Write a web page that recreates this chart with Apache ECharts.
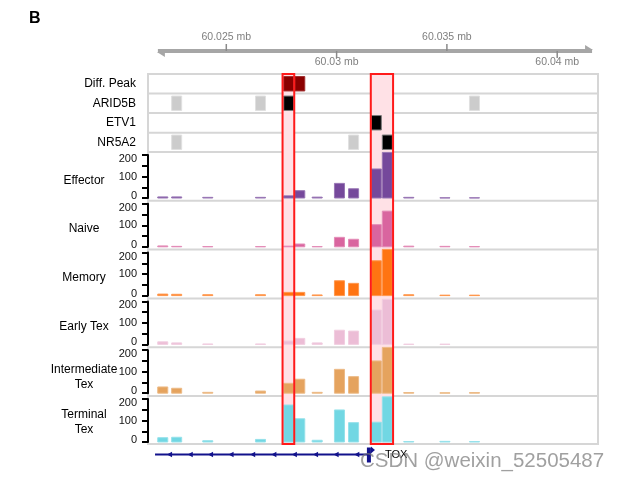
<!DOCTYPE html>
<html><head><meta charset="utf-8">
<script src="https://cdn.jsdelivr.net/npm/echarts@6/dist/echarts.min.js"></script>
<style>html,body{margin:0;padding:0;background:#fff}#c{width:618px;height:480px}</style>
</head><body><div id="c"></div>
<script>
// ---------------- data ----------------
const binStarts = [60.02187,60.02250,60.02391,60.02630,60.02758,60.02808,60.02887,60.02988,60.03052,60.03155,60.03205,60.03302,60.03466,60.03600];
const binWidth = 0.0005;
const trackNames = ['Effector','Naive','Memory','Early Tex','Intermediate\nTex','Terminal\nTex'];
const effector        = [5,5,3,3,10,34,4,68,43,135,212,3,1,1];
const naive           = [4,2,1,1,3,13,1,44,35,103,166,3,2,1];
const memory          = [7,6,4,4,15,15,3,69,57,162,215,4,2,2];
const earlyTex        = [12,7,2,2,16,28,7,66,62,160,210,1,1,0];
const intermediateTex = [29,23,4,10,46,65,4,111,77,150,213,3,2,3];
const terminalTex     = [20,22,6,12,172,108,8,149,90,92,210,2,3,2];
const yTickLabels = [0,100,200];

const featureNames = ['Diff. Peak','ARID5B','ETV1','NR5A2'];
const diffPeakStarts = [60.02758,60.02808];
const arid5bStarts = [60.02250,60.02630,60.02758,60.03600];
const arid5bSig    = [0,0,1,0];
const etv1Starts   = [60.03155];
const etv1Sig      = [1];
const nr5a2Starts  = [60.02250,60.03052,60.03205];
const nr5a2Sig     = [0,0,1];

const highlightRegions = [[60.02755,60.02808],[60.03155,60.03256]];

const scaleStart = 60.02190, scaleEnd = 60.04158;
const scaleTicks = [60.025,60.03,60.035,60.04];
const scaleTickLabels = ['60.025 mb','60.03 mb','60.035 mb','60.04 mb'];

const geneName = 'TOX';
const geneStart = 60.02177, geneTSS = 60.03151;
const intronArrows = [60.02245,60.02339,60.02431,60.02524,60.02622,60.02718,60.02811,60.02907,60.03000,60.03094];

// ---------------- layout / style ----------------
const X_MIN = 60.021451, X_MAX = 60.041849;
const L = 148, W = 450;
const trackColors = ['#75489b','#d9659f','#ff7412','#ecbdd6','#e5a35e','#71d7e3'];
const trackValues = [effector,naive,memory,earlyTex,intermediateTex,terminalTex];
const trackTop = i => 155 + 48.8*i;
const FONT = '"Liberation Sans", Arial, Helvetica, sans-serif';

function lighten(hex, f){
  const n = parseInt(hex.slice(1),16);
  const r=(n>>16)&255,g=(n>>8)&255,b=n&255;
  const m=c=>Math.round(c+(255-c)*f);
  return 'rgb('+m(r)+','+m(g)+','+m(b)+')';
}

const grids = [], xAxes = [], yAxes = [], series = [];
function addGrid(g, y){
  const idx = grids.length;
  grids.push(Object.assign({left:L, width:W}, g));
  xAxes.push({type:'value', gridIndex:idx, min:X_MIN, max:X_MAX, show:false});
  yAxes.push(Object.assign({type:'value', gridIndex:idx}, y));
  return idx;
}

// scale bar
const gScale = addGrid({top:31, height:40}, {min:0,max:1,show:false});
series.push({
  type:'custom', xAxisIndex:gScale, yAxisIndex:gScale, data:[[scaleStart, scaleEnd]], silent:true,
  renderItem(params, api){
    const a = api.coord([scaleStart,0.5]), b = api.coord([scaleEnd,0.5]);
    const y = a[1];
    const col = '#a6a6a6';
    const ch = [
      {type:'line', shape:{x1:a[0],y1:y,x2:b[0],y2:y}, style:{stroke:col, lineWidth:4}},
      {type:'polygon', shape:{points:[[b[0]-7,y-6],[b[0]+1,y-1],[b[0]-7,y-1]]}, style:{fill:col}},
      {type:'polygon', shape:{points:[[a[0]+7,y+6],[a[0]-1,y+1],[a[0]+7,y+1]]}, style:{fill:col}}
    ];
    scaleTicks.forEach((t,i)=>{
      const c = api.coord([t,0.5]);
      const up = i%2===0;
      ch.push({type:'line', shape:{x1:c[0],y1:y,x2:c[0],y2:up?y-7:y+7}, style:{stroke:'#8a8a8a', lineWidth:1.5}});
      ch.push({type:'text', style:{text:scaleTickLabels[i], x:c[0], y:up?y-14:y+11, textAlign:'center', textVerticalAlign:'middle', align:'center', verticalAlign:'middle', font:'10.5px '+FONT, fill:'#7f7f7f'}});
    });
    return {type:'group', children:ch};
  }
});

// frame grid (highlights)
const gFrame = addGrid({top:74, height:370, show:true, borderColor:'#d6d6d6', borderWidth:2, backgroundColor:'rgba(0,0,0,0)'}, {min:0,max:1,show:false});
series.push({
  type:'custom', xAxisIndex:gFrame, yAxisIndex:gFrame, z:1, silent:true,
  data: highlightRegions,
  renderItem(params, api){
    const p0 = api.coord([api.value(0),1]), p1 = api.coord([api.value(1),0]);
    return {type:'rect', shape:{x:p0[0], y:p0[1], width:p1[0]-p0[0], height:p1[1]-p0[1]}, style:{fill:'#ffe1e6'}};
  }
});
series.push({
  type:'custom', xAxisIndex:gFrame, yAxisIndex:gFrame, z:20, silent:true,
  data: highlightRegions,
  renderItem(params, api){
    const p0 = api.coord([api.value(0),1]), p1 = api.coord([api.value(1),0]);
    return {type:'rect', shape:{x:p0[0], y:p0[1], width:p1[0]-p0[0], height:p1[1]-p0[1]}, style:{fill:'none', stroke:'#ff1a1a', lineWidth:2}};
  }
});

// features
const gFeat = addGrid({top:74, height:78}, {min:0,max:4,show:false});
const featData = [];
diffPeakStarts.forEach(s=>featData.push([s,0,2]));
arid5bStarts.forEach((s,i)=>featData.push([s,1,arid5bSig[i]]));
etv1Starts.forEach((s,i)=>featData.push([s,2,etv1Sig[i]]));
nr5a2Starts.forEach((s,i)=>featData.push([s,3,nr5a2Sig[i]]));
series.push({
  type:'custom', xAxisIndex:gFeat, yAxisIndex:gFeat, z:5, silent:true, data:featData,
  renderItem(params, api){
    const s = api.value(0), r = api.value(1), k = api.value(2);
    const p0 = api.coord([s, 4-r-0.13]), p1 = api.coord([s+binWidth, 4-r-0.87]);
    const fill = k===2 ? '#8b0000' : (k===1 ? '#000000' : '#cccccc');
    const stroke = k===2 ? '#a03030' : (k===1 ? '#7a7a7a' : '#e0e0e0');
    return {type:'rect', shape:{x:p0[0]+0.5, y:p0[1], width:p1[0]-p0[0]-1, height:p1[1]-p0[1]}, style:{fill, stroke, lineWidth:1}};
  }
});

// tracks
const labelRich = {
  t:{fontSize:11, fontFamily:FONT, color:'#111', padding:[8,0,0,0]},
  m:{fontSize:11, fontFamily:FONT, color:'#111'},
  b:{fontSize:11, fontFamily:FONT, color:'#111', padding:[0,0,4,0]}
};
trackValues.forEach((vals, i)=>{
  const g = addGrid({top:trackTop(i), height:43}, {
    min:0, max:200, interval:50,
    axisLine:{show:true, onZero:false, lineStyle:{color:'#000', width:2}},
    axisTick:{show:true, length:6, lineStyle:{color:'#000', width:2}},
    axisLabel:{show:true, margin:11, fontSize:11, fontFamily:FONT, color:'#111', rich:labelRich,
      formatter:v=> {
        if (yTickLabels.indexOf(v) < 0) return '';
        const k = v===yTickLabels[yTickLabels.length-1] ? 't' : (v===yTickLabels[0] ? 'b' : 'm');
        return '{'+k+'|'+v+'}';
      }},
    splitLine:{show:false}
  });
  const col = trackColors[i], st = lighten(trackColors[i], 0.25);
  series.push({
    type:'custom', xAxisIndex:g, yAxisIndex:g, z:5, silent:true,
    data: binStarts.map((s,j)=>[s, s+binWidth, vals[j]]),
    renderItem(params, api){
      if (api.value(2) <= 0) return null;
      const p0 = api.coord([api.value(0), 0]), p1 = api.coord([api.value(1), api.value(2)]);
      return {type:'rect', shape:{x:p0[0]+0.5, y:p1[1], width:p1[0]-p0[0]-1, height:p0[1]-p1[1]}, style:{fill:col, stroke:st, lineWidth:1}};
    }
  });
});

// gene track
const gGene = addGrid({top:446, height:18}, {min:0,max:1,show:false});
series.push({
  type:'custom', xAxisIndex:gGene, yAxisIndex:gGene, silent:true, data:[[geneStart, geneTSS]],
  renderItem(params, api){
    const a = api.coord([geneStart,0.5]), b = api.coord([geneTSS,0.5]);
    const y = a[1]-0.5, col = '#12128c';
    const ch = [{type:'line', shape:{x1:a[0],y1:y,x2:b[0],y2:y}, style:{stroke:col, lineWidth:2}}];
    intronArrows.forEach(p=>{
      const c = api.coord([p,0.5]);
      ch.push({type:'polygon', shape:{points:[[c[0]-3,y],[c[0]+2,y-2.8],[c[0]+2,y+2.8]]}, style:{fill:col}});
    });
    ch.push({type:'rect', shape:{x:b[0]-3, y:y-7, width:4, height:15}, style:{fill:col}});
    ch.push({type:'polygon', shape:{points:[[b[0]+1,y-8],[b[0]+5,y-4.5],[b[0]+1,y-1]]}, style:{fill:col}});
    ch.push({type:'text', style:{text:geneName, x:b[0]+15, y:y, textAlign:'left', textVerticalAlign:'middle', align:'left', verticalAlign:'middle', font:'11px '+FONT, fill:'#000'}});
    return {type:'group', children:ch};
  }
});

// ---------------- graphics (labels, separators) ----------------
const graphic = [];
[93.5,113,132.7,152,200.8,249.6,298.4,347.2,396].forEach(y=>{
  graphic.push({type:'line', z:0, shape:{x1:L,y1:y,x2:L+W,y2:y}, style:{stroke:'#d6d6d6', lineWidth:2}});
});
const featY = [84,103.5,123,142.5];
featureNames.forEach((n,i)=>{
  graphic.push({type:'text', z:10, style:{text:n, x:136, y:featY[i], textAlign:'right', textVerticalAlign:'middle', align:'right', verticalAlign:'middle', font:'12px '+FONT, fill:'#000'}});
});
const trackLabelY = [181,229,278,327,377.5,422.5];
trackNames.forEach((n,i)=>{
  graphic.push({type:'text', z:10, style:{text:n, x:84, y:trackLabelY[i], textAlign:'center', textVerticalAlign:'middle', align:'center', verticalAlign:'middle', font:'12px '+FONT, fill:'#000', lineHeight:15}});
});
graphic.push({type:'text', z:10, style:{text:'B', x:29, y:19, textAlign:'left', textVerticalAlign:'middle', align:'left', verticalAlign:'middle', font:'bold 16px '+FONT, fill:'#000'}});
graphic.push({type:'text', z:100, style:{text:'CSDN @weixin_52505487', x:360, y:461, textAlign:'left', textVerticalAlign:'middle', align:'left', verticalAlign:'middle', font:'20.5px '+FONT, fill:'rgba(120,120,120,0.7)'}});

const chart = echarts.init(document.getElementById('c'));
chart.setOption({
  animation:false,
  backgroundColor:'#fff',
  grid:grids, xAxis:xAxes, yAxis:yAxes, series:series,
  graphic:{elements:graphic}
});
</script>
</body></html>
